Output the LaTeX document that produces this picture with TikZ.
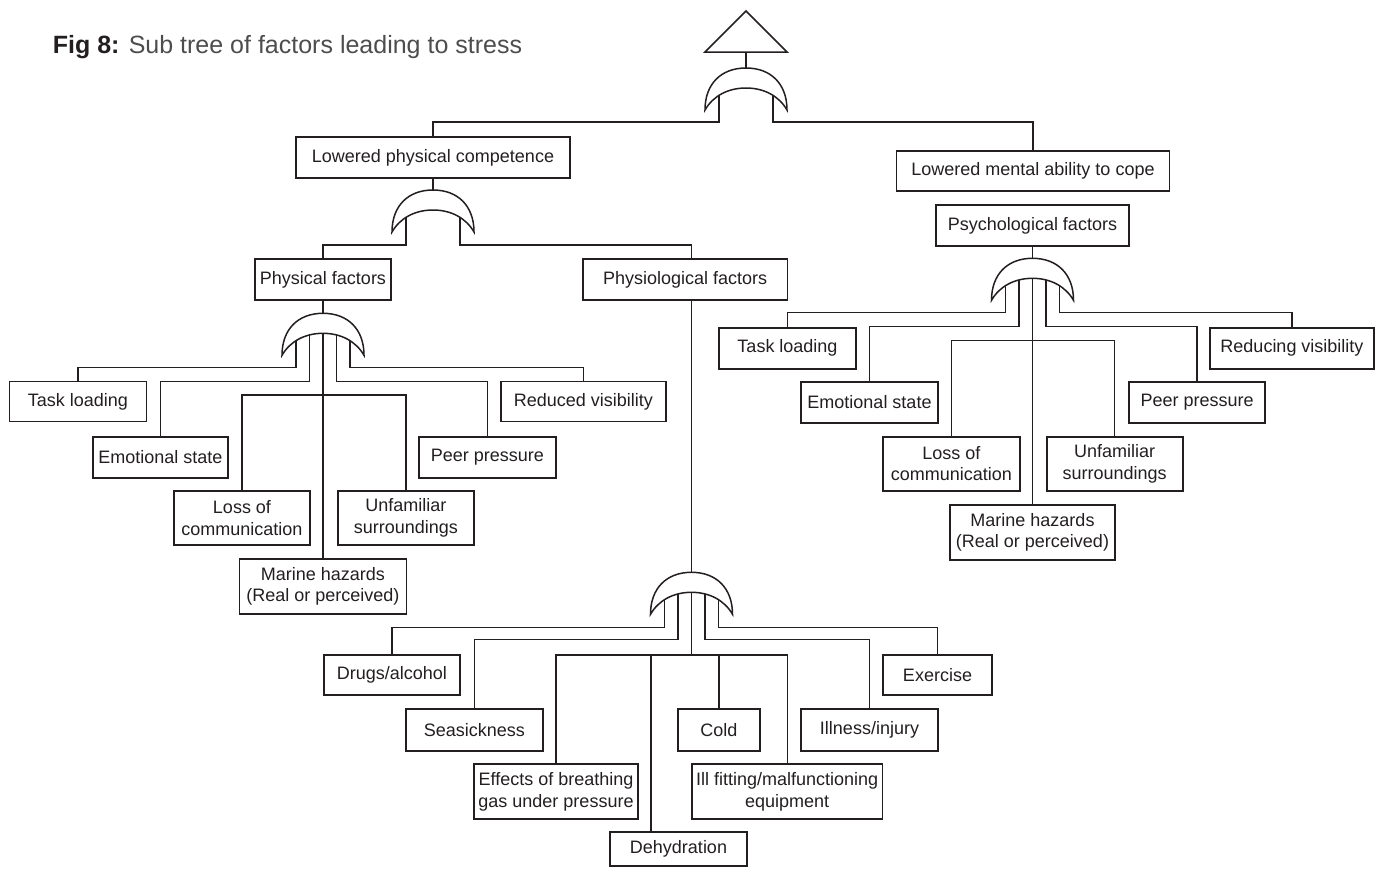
\documentclass[tikz,border=0pt]{standalone}
\usepackage{fontspec}
\setmainfont{Liberation Sans}
\definecolor{ink}{HTML}{231F20}
\definecolor{soft}{HTML}{4D4D4D}

% OR gate: name, centre x, top y (y grows downwards)
\newcommand\orgate[3]{%
  \draw[gateline] (#2-41,#3+42) .. controls (#2-41,#3+16) and (#2-25,#3) .. (#2,#3)
    .. controls (#2+25,#3) and (#2+41,#3+16) .. (#2+41,#3+42)
    .. controls (#2+33,#3+28) and (#2+18,#3+20) .. (#2,#3+20)
    .. controls (#2-18,#3+20) and (#2-33,#3+28) .. cycle;
  \coordinate (#1-top) at (#2,#3);
  \coordinate (#1-a) at (#2-27,#3+27.6);
  \coordinate (#1-b) at (#2-13.5,#3+21.8);
  \coordinate (#1-c) at (#2,#3+20);
  \coordinate (#1-d) at (#2+13.5,#3+21.8);
  \coordinate (#1-e) at (#2+27,#3+27.6);
}

\begin{document}
\begin{tikzpicture}[x=1pt,y=-1pt,
  box/.style={draw=ink, line width=1.9pt, inner sep=0pt, align=center,
    font=\fontsize{18}{21.5}\selectfont, text=ink},
  wire/.style={draw=ink, line width=1.4pt},
  gateline/.style={draw=ink, line width=1.5pt, line join=miter}]
\useasboundingbox (0,0) rectangle (1385,868);

% title
\node[anchor=base west, inner sep=0pt, font=\fontsize{25}{30}\selectfont, text=ink] (title) at (52.7,53.3)
  {\textbf{Fig 8:} \textcolor{soft}{Sub tree of factors leading to stress}};

% top event and first gate
\draw[gateline] (746,11) -- (787,52) -- (705,52) -- cycle;
\coordinate (topevent) at (746,52);
\orgate{g0}{746}{68}
\draw[wire] (topevent) -- (g0-top);

% second level
\node[box, minimum width=273.3pt, minimum height=40.4pt] (lpc) at (433,157.5) {Lowered physical competence};
\node[box, minimum width=273pt, minimum height=40.3pt] (lma) at (1033,170.9) {Lowered mental ability to cope};
\draw[wire] (g0-a) -- (g0-a |- 0,122) -| (lpc.north);
\draw[wire] (g0-e) -- (g0-e |- 0,122) -| (lma.north);

\orgate{g1}{433}{190}
\draw[wire] (lpc.south) -- (g1-top);

\node[box, minimum width=136.7pt, minimum height=41pt] (phys) at (323,279.5) {Physical factors};
\node[box, minimum width=204.8pt, minimum height=41pt] (physio) at (685.1,279.5) {Physiological factors};
\draw[wire] (g1-a) -- (g1-a |- 0,245) -| (phys.north);
\draw[wire] (g1-e) -- (g1-e |- 0,245) -| (physio.north -| 691.5,0);

% physical factors branch
\orgate{g2}{323}{313.3}
\draw[wire] (phys.south) -- (g2-top);
\node[box, minimum width=137pt, minimum height=40pt] (tl1) at (78,401.5) {Task loading};
\node[box, minimum width=135.6pt, minimum height=41.6pt] (es1) at (160.5,457.5) {Emotional state};
\node[box, minimum width=136pt, minimum height=54.3pt] (lc1) at (242,517.9) {Loss of\\communication};
\node[box, minimum width=136.3pt, minimum height=54.3pt] (uf1) at (405.8,517.9) {Unfamiliar\\surroundings};
\node[box, minimum width=167pt, minimum height=55pt] (mh1) at (323,586.5) {Marine hazards\\(Real or perceived)};
\node[box, minimum width=137pt, minimum height=41.6pt] (pp1) at (487.5,457.5) {Peer pressure};
\node[box, minimum width=164.6pt, minimum height=40pt] (rv1) at (583.3,401.5) {Reduced visibility};
\draw[wire] (g2-a) -- (g2-a |- 0,367.7) -| (tl1.north);
\draw[wire] (g2-b) -- (g2-b |- 0,381.7) -| (es1.north);
\draw[wire] (g2-c) -- (mh1.north);
\draw[wire] (lc1.north) -- (lc1.north |- 0,395) -- (uf1.north |- 0,395) -- (uf1.north);
\draw[wire] (g2-d) -- (g2-d |- 0,381.7) -| (pp1.north);
\draw[wire] (g2-e) -- (g2-e |- 0,367.7) -| (rv1.north);

% physiological factors branch
\orgate{g3}{691.5}{572.3}
\draw[wire] (physio.south -| 691.5,0) -- (g3-top);
\node[box, minimum width=135.9pt, minimum height=40pt] (da) at (391.9,675) {Drugs/alcohol};
\node[box, minimum width=136.6pt, minimum height=41.4pt] (sea) at (474.3,730) {Seasickness};
\node[box, minimum width=164.5pt, minimum height=55.3pt] (eff) at (556,791.7) {Effects of breathing\\gas under pressure};
\node[box, minimum width=137.8pt, minimum height=34.5pt] (deh) at (678.5,849) {Dehydration};
\node[box, minimum width=82.3pt, minimum height=41.4pt] (cold) at (718.9,730) {Cold};
\node[box, minimum width=190.6pt, minimum height=55.3pt] (ill) at (787.2,791.7) {Ill fitting/malfunctioning\\equipment};
\node[box, minimum width=137pt, minimum height=41.4pt] (inj) at (869.5,730) {Illness/injury};
\node[box, minimum width=109pt, minimum height=40pt] (ex) at (937.5,675) {Exercise};
\draw[wire] (g3-a) -- (g3-a |- 0,627.3) -| (da.north);
\draw[wire] (g3-b) -- (g3-b |- 0,639.3) -| (sea.north);
\draw[wire] (g3-c) -- (g3-c |- 0,655);
\draw[wire] (eff.north) -- (eff.north |- 0,655) -- (ill.north |- 0,655) -- (ill.north);
\draw[wire] (deh.north -| 651,0) -- (651,655);
\draw[wire] (cold.north) -- (cold.north |- 0,655);
\draw[wire] (g3-d) -- (g3-d |- 0,639.3) -| (inj.north);
\draw[wire] (g3-e) -- (g3-e |- 0,627.3) -| (ex.north);

% psychological factors branch
\node[box, minimum width=192.4pt, minimum height=41pt] (psych) at (1032.5,225.5) {Psychological factors};
\orgate{g4}{1032.5}{258.3}
\draw[wire] (psych.south) -- (g4-top);
\node[box, minimum width=137.4pt, minimum height=41.3pt] (tl2) at (787.5,348.3) {Task loading};
\node[box, minimum width=137.4pt, minimum height=41pt] (es2) at (869.5,402.2) {Emotional state};
\node[box, minimum width=137.3pt, minimum height=54pt] (lc2) at (951.3,463.7) {Loss of\\communication};
\node[box, minimum width=136pt, minimum height=54pt] (uf2) at (1114.7,463.7) {Unfamiliar\\surroundings};
\node[box, minimum width=164.3pt, minimum height=55pt] (mh2) at (1032.5,532.5) {Marine hazards\\(Real or perceived)};
\node[box, minimum width=136.6pt, minimum height=41pt] (pp2) at (1197.1,402.2) {Peer pressure};
\node[box, minimum width=164pt, minimum height=41.3pt] (rv2) at (1292,348.3) {Reducing visibility};
\draw[wire] (g4-a) -- (g4-a |- 0,312.7) -| (tl2.north);
\draw[wire] (g4-b) -- (g4-b |- 0,326.7) -| (es2.north);
\draw[wire] (g4-c) -- (mh2.north);
\draw[wire] (lc2.north) -- (lc2.north |- 0,340.7) -- (uf2.north |- 0,340.7) -- (uf2.north);
\draw[wire] (g4-d) -- (g4-d |- 0,326.7) -| (pp2.north);
\draw[wire] (g4-e) -- (g4-e |- 0,312.7) -| (rv2.north);
\end{tikzpicture}
\end{document}
